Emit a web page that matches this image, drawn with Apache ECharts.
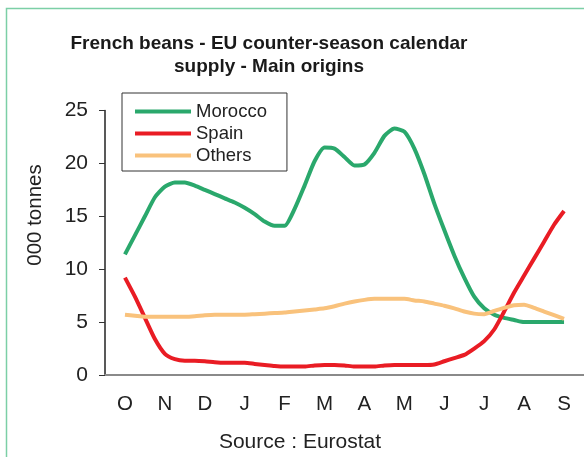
<!DOCTYPE html>
<html>
<head>
<meta charset="utf-8">
<script src="https://cdn.jsdelivr.net/npm/echarts@6/dist/echarts.min.js"></script>
<style>
  html, body { margin: 0; padding: 0; background: #fff; }
  #main { width: 584px; height: 457px; }
</style>
</head>
<body>
<div id="main"></div>
<script>
// month letters, Oct -> Sep
const months = ['O', 'N', 'D', 'J', 'F', 'M', 'A', 'M', 'J', 'J', 'A', 'S'];
const yTicks = [0, 5, 10, 15, 20, 25];

// values read every quarter month, from mid-October to mid-September ('000 t)
const morocco = [11.4, 13.2, 15.0, 16.8, 17.8, 18.2, 18.2, 17.9, 17.5, 17.1,
  16.7, 16.3, 15.8, 15.2, 14.5, 14.1, 14.1, 15.7, 17.9, 20.2,
  21.5, 21.4, 20.6, 19.8, 19.9, 21.0, 22.6, 23.3, 23.0, 21.4,
  19.0, 16.2, 13.7, 11.3, 9.2, 7.4, 6.3, 5.7, 5.4, 5.2,
  5.0, 5.0, 5.0, 5.0, 5.0];
const spain = [9.2, 7.4, 5.4, 3.4, 2.0, 1.5, 1.35, 1.35, 1.3, 1.2,
  1.15, 1.15, 1.15, 1.05, 0.95, 0.85, 0.8, 0.8, 0.8, 0.9,
  0.95, 0.95, 0.9, 0.8, 0.8, 0.8, 0.9, 0.95, 0.95, 0.95,
  0.95, 1.0, 1.3, 1.6, 1.9, 2.5, 3.2, 4.3, 6.0, 7.8,
  9.4, 11.0, 12.6, 14.2, 15.5];
const others = [5.7, 5.6, 5.5, 5.5, 5.5, 5.5, 5.5, 5.55, 5.65, 5.7,
  5.7, 5.7, 5.7, 5.75, 5.8, 5.85, 5.9, 6.0, 6.1, 6.2,
  6.3, 6.5, 6.75, 6.95, 7.1, 7.2, 7.2, 7.2, 7.2, 7.05,
  6.95, 6.75, 6.55, 6.3, 6.0, 5.8, 5.75, 6.05, 6.35, 6.6,
  6.65, 6.35, 6.0, 5.65, 5.3];

// position in months: first sample sits mid-October
const toPoints = arr => arr.map((v, i) => [0.5 + i / 4, v]);

const font = 'Liberation Sans, Arial, sans-serif';
const chart = echarts.init(document.getElementById('main'));

chart.setOption({
  backgroundColor: '#fff',
  animation: false,
  title: {
    text: 'French beans - EU counter-season calendar\nsupply - Main origins',
    left: 264,
    top: 27,
    textAlign: 'center',
    textStyle: { fontFamily: font, fontSize: 19, fontWeight: 'bold', color: '#1a1a1a', lineHeight: 23 }
  },
  legend: {
    orient: 'vertical',
    left: 122,
    top: 93,
    padding: [9, 20, 6, 13],
    borderColor: '#333',
    borderWidth: 1,
    itemWidth: 56,
    itemHeight: 4,
    itemGap: 3,
    icon: 'rect',
    textStyle: { fontFamily: font, fontSize: 18.5, color: '#222', lineHeight: 18 },
    data: ['Morocco', 'Spain', 'Others']
  },
  graphic: [
    {
      type: 'rect',
      shape: { x: 6.5, y: 8.5, width: 700, height: 600 },
      style: { fill: 'none', stroke: '#7ccfa6', lineWidth: 1.5 },
      silent: true
    },
    {
      type: 'text',
      x: 35, y: 215,
      rotation: Math.PI / 2,
      style: { text: '000 tonnes', fontFamily: font, fontSize: 20.5, fill: '#222', align: 'center', verticalAlign: 'middle' }
    },
    {
      type: 'text',
      x: 300, y: 442,
      style: { text: 'Source : Eurostat', fontFamily: font, fontSize: 21, fill: '#222', align: 'center', verticalAlign: 'middle' }
    }
  ],
  grid: { left: 105, right: -1, top: 110.5, bottom: 82 },
  xAxis: [
    {
      type: 'category',
      data: months,
      boundaryGap: true,
      axisLine: { lineStyle: { color: '#8a8a8a', width: 2 } },
      axisTick: { length: 6, lineStyle: { color: '#555', width: 1 } },
      axisLabel: { fontFamily: font, fontSize: 20.5, color: '#222', margin: 19 }
    },
    { type: 'value', min: 0, max: 12, show: false }
  ],
  yAxis: {
    type: 'value',
    min: yTicks[0],
    max: yTicks[yTicks.length - 1],
    interval: 5,
    splitLine: { show: false },
    axisLine: { show: true, lineStyle: { color: '#222', width: 1.5 } },
    axisTick: { show: true, length: 6, lineStyle: { color: '#333' } },
    axisLabel: { fontFamily: font, fontSize: 21, color: '#222', margin: 17 }
  },
  series: [
    { name: 'Morocco', type: 'line', xAxisIndex: 1, data: toPoints(morocco), smooth: 0.2, showSymbol: false, color: '#2aa86c', lineStyle: { width: 4 } },
    { name: 'Spain', type: 'line', xAxisIndex: 1, data: toPoints(spain), smooth: 0.2, showSymbol: false, color: '#e91c24', lineStyle: { width: 4 } },
    { name: 'Others', type: 'line', xAxisIndex: 1, data: toPoints(others), smooth: 0.2, showSymbol: false, color: '#f9c27c', lineStyle: { width: 4 } }
  ]
});
</script>
</body>
</html>
